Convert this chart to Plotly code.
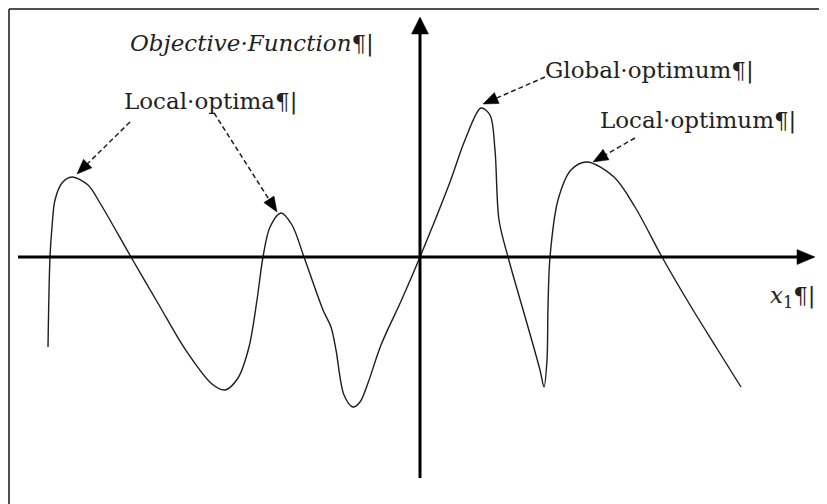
import numpy as np
import plotly.graph_objects as go

# ---- data (diagram units: x right of origin, y above the x1 axis) ----
curve_x = [-372, -370, -368, -365, -358, -348, -332, -320, -289, -261, -235, -208,
           -195, -182, -171, -163, -157, -150, -139, -128, -116, -97, -89, -84,
           -76, -67, -60, -52, -39, -18, 0, 30, 45, 61, 70, 75, 79, 88, 106, 120,
           124, 127, 128, 130, 138, 151, 167, 194, 215, 242, 270, 296, 321]
curve_y = [-90, 0, 30, 57, 74, 80, 72, 54, 0, -48, -92, -127,
           -133, -121, -90, -43, 0, 30, 44, 32, 0, -53, -70, -93,
           -138, -150, -145, -126, -88, -42, 0, 75, 117, 149, 142, 107, 37, 0, -63, -113,
           -130, -103, -50, 0, 57, 87, 95, 80, 50, 0, -48, -90, -130]

labels = ["Local·optima¶|", "Global·optimum¶|", "Local·optimum¶|"]
y_title = "<i>Objective·Function</i>¶|"
x_title = "<i>x</i><sub>1</sub>¶|"

# arrows: (tail_x, tail_y, tip_x, tip_y)
arrows = [(-290, 135, -343, 83),
          (-206, 144, -143, 45),
          (125, 180, 63, 153),
          (215, 119, 173, 95)]

# page body adds an 8px offset; ranges compensate so marks land where the reference has them
X_RANGE = [-412, 415]
Y_RANGE = [-255, 249]

fig = go.Figure()
fig.add_trace(go.Scatter(x=curve_x, y=curve_y, mode="lines",
                         line=dict(color="#1e1e1e", width=1.4, shape="spline", smoothing=0.9),
                         hoverinfo="skip", showlegend=False))

shapes = []


def head(tx, ty, ux, uy, L, W):
    n = np.hypot(ux, uy)
    ux, uy = ux / n, uy / n
    px, py = -uy, ux
    bx, by = tx - L * ux, ty - L * uy
    return dict(type="path",
                path=f"M {tx} {ty} L {bx + W/2*px} {by + W/2*py} L {bx - W/2*px} {by - W/2*py} Z",
                fillcolor="black", line=dict(color="black", width=0.5), layer="above")


# frame (left and top edges)
shapes.append(dict(type="line", x0=-411, x1=415, y0=248, y1=248, line=dict(color="#505050", width=2)))
shapes.append(dict(type="line", x0=-411, x1=-411, y0=248, y1=-255, line=dict(color="#505050", width=2)))

# axes
shapes.append(dict(type="line", x0=-402, x1=380, y0=0, y1=0, line=dict(color="black", width=3)))
shapes.append(head(395, 0, 1, 0, 18, 15))
shapes.append(dict(type="line", x0=0, x1=0, y0=-221, y1=226, line=dict(color="black", width=3)))
shapes.append(head(0, 240, 0, 1, 17, 17))

# dashed annotation arrows
for (x0, y0, x1, y1) in arrows:
    dx, dy = x1 - x0, y1 - y0
    n = np.hypot(dx, dy)
    ex, ey = x1 - 12 * dx / n, y1 - 12 * dy / n
    shapes.append(dict(type="line", x0=x0, y0=y0, x1=ex, y1=ey,
                       line=dict(color="#222", width=1.5, dash="5px,3px")))
    shapes.append(head(x1, y1, dx, dy, 15, 12))

fnt = dict(family="DejaVu Serif", size=23, color="#222")
annos = [
    dict(x=-292, y=214, text=y_title),
    dict(x=-298, y=156, text=labels[0]),
    dict(x=123, y=187, text=labels[1]),
    dict(x=178, y=137, text=labels[2]),
    dict(x=348, y=-40, text=x_title),
]
for a in annos:
    a.update(xref="x", yref="y", xanchor="left", yanchor="middle", showarrow=False, font=fnt)

fig.update_layout(width=827, height=504, margin=dict(l=0, r=0, t=0, b=0),
                  paper_bgcolor="white", plot_bgcolor="white",
                  shapes=shapes, annotations=annos,
                  xaxis=dict(range=X_RANGE, visible=False, fixedrange=True),
                  yaxis=dict(range=Y_RANGE, visible=False, fixedrange=True))

fig.write_html("out.html")
